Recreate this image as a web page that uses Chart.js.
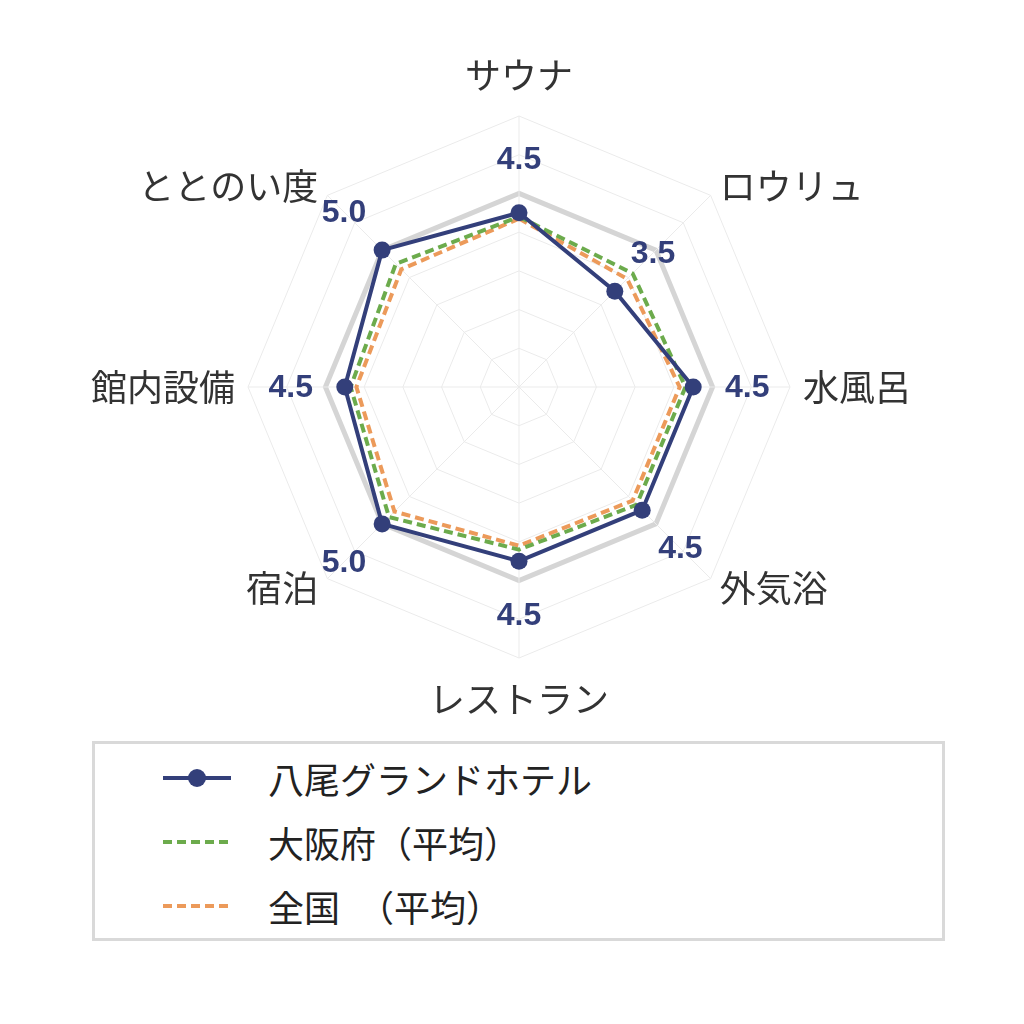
<!DOCTYPE html>
<html lang="ja">
<head>
<meta charset="utf-8">
<title>八尾グランドホテル レーダーチャート</title>
<script src="https://cdn.jsdelivr.net/npm/chart.js@4.4.1/dist/chart.umd.min.js"></script>
<style>
  html, body { margin: 0; padding: 0; background: #fff; }
  body { width: 1024px; height: 1024px; position: relative; overflow: hidden; font-family: "Noto Sans CJK JP", sans-serif; }
  #chart { position: absolute; left: 0; top: 0; }
  #legend { position: absolute; left: 92px; top: 741px; width: 853px; height: 200px; box-sizing: border-box; border: 3px solid #d9d9d9; }
  .item { position: absolute; left: 0; height: 64px; width: 100%; }
  .item canvas { position: absolute; left: 68px; top: 22px; }
  .item span { position: absolute; left: 173px; top: 0; line-height: 64px; font-size: 36px; color: #222; white-space: pre; }
</style>
</head>
<body>
<canvas id="chart" width="1024" height="740"></canvas>
<div id="legend"></div>
<script>
var categories = ['サウナ', 'ロウリュ', '水風呂', '外気浴', 'レストラン', '宿泊', '館内設備', 'ととのい度'];
var hotelScores = [4.5, 3.5, 4.5, 4.5, 4.5, 5.0, 4.5, 5.0];
var osakaAvg = [4.4, 4.15, 4.3, 4.3, 4.2, 4.75, 4.35, 4.5];
var nationalAvg = [4.35, 3.95, 4.15, 4.15, 4.1, 4.55, 4.2, 4.3];
var seriesNames = ['八尾グランドホテル', '大阪府（平均）', '全国　（平均）'];
var tickMax = 7;
var highlightTick = 5;

var NAVY = '#333f7a';
var GREEN = '#6cab4c';
var ORANGE = '#ec9a5a';

// category names and score labels drawn around the web
var labelPlugin = {
  id: 'saunaLabels',
  afterDraw: function (chart) {
    var r = chart.scales.r;
    var ctx = chart.ctx;
    ctx.save();
    ctx.font = '36px "Noto Sans CJK JP"';
    ctx.fillStyle = '#333333';
    ctx.textBaseline = 'middle';
    categories.forEach(function (name, i) {
      var a = r.getIndexAngle(i);
      var vertical = Math.abs(Math.sin(a)) < 0.01;
      var p = r.getPointPosition(i, r.drawingArea + 13 + (vertical ? 28 : 0));
      ctx.textAlign = vertical ? 'center' : (p.x > r.xCenter ? 'left' : 'right');
      ctx.fillText(name, p.x, p.y);
    });
    ctx.font = 'bold 32px "Liberation Sans", Arial, sans-serif';
    ctx.fillStyle = NAVY;
    ctx.textAlign = 'center';
    hotelScores.forEach(function (v, i) {
      var p = r.getPointPosition(i, r.getDistanceFromCenterForValue(v) + 54);
      ctx.fillText(v.toFixed(1), p.x, p.y + 1);
    });
    ctx.restore();
  }
};

// legend below the chart, built from the datasets
var htmlLegend = {
  id: 'htmlLegend',
  afterUpdate: function (chart) {
    var box = document.getElementById('legend');
    box.innerHTML = '';
    chart.data.datasets.forEach(function (ds, i) {
      var row = document.createElement('div');
      row.className = 'item';
      row.style.top = (2 + i * 64) + 'px';
      var c = document.createElement('canvas');
      c.width = 68; c.height = 20;
      var g = c.getContext('2d');
      g.strokeStyle = ds.borderColor;
      g.lineWidth = 4;
      g.setLineDash(ds.borderDash || []);
      g.beginPath(); g.moveTo(0, 10); g.lineTo(68, 10); g.stroke();
      if (ds.pointRadius > 0) {
        g.fillStyle = ds.pointBackgroundColor;
        g.beginPath(); g.arc(34, 10, 9, 0, Math.PI * 2); g.fill();
      }
      var t = document.createElement('span');
      t.textContent = ds.label;
      row.appendChild(c);
      row.appendChild(t);
      box.appendChild(row);
    });
  }
};

var ctx = document.getElementById('chart').getContext('2d');
var myChart = new Chart(ctx, {
  type: 'radar',
  data: {
    labels: categories,
    datasets: [
      {
        label: seriesNames[0],
        data: hotelScores,
        borderColor: NAVY,
        backgroundColor: NAVY,
        borderWidth: 4,
        pointRadius: 8.5,
        pointBackgroundColor: NAVY,
        pointBorderWidth: 0,
        fill: false
      },
      {
        label: seriesNames[1],
        data: osakaAvg,
        borderColor: GREEN,
        borderWidth: 4,
        borderDash: [9, 5],
        pointRadius: 0,
        fill: false
      },
      {
        label: seriesNames[2],
        data: nationalAvg,
        borderColor: ORANGE,
        borderWidth: 4,
        borderDash: [9, 5],
        pointRadius: 0,
        fill: false
      }
    ]
  },
  options: {
    responsive: false,
    animation: false,
    layout: { padding: { left: 248, right: 234, top: 116, bottom: 82 } },
    plugins: {
      legend: { display: false },
      tooltip: { enabled: false }
    },
    scales: {
      r: {
        min: 0,
        max: tickMax,
        ticks: { stepSize: 1, display: false },
        pointLabels: { display: false },
        angleLines: { color: '#ebebeb', lineWidth: 1 },
        grid: {
          color: function (c) { return c.tick && c.tick.value === highlightTick ? '#d5d5d5' : '#ebebeb'; },
          lineWidth: function (c) { return c.tick && c.tick.value === highlightTick ? 5 : 1; }
        }
      }
    }
  },
  plugins: [labelPlugin, htmlLegend]
});
</script>
</body>
</html>
